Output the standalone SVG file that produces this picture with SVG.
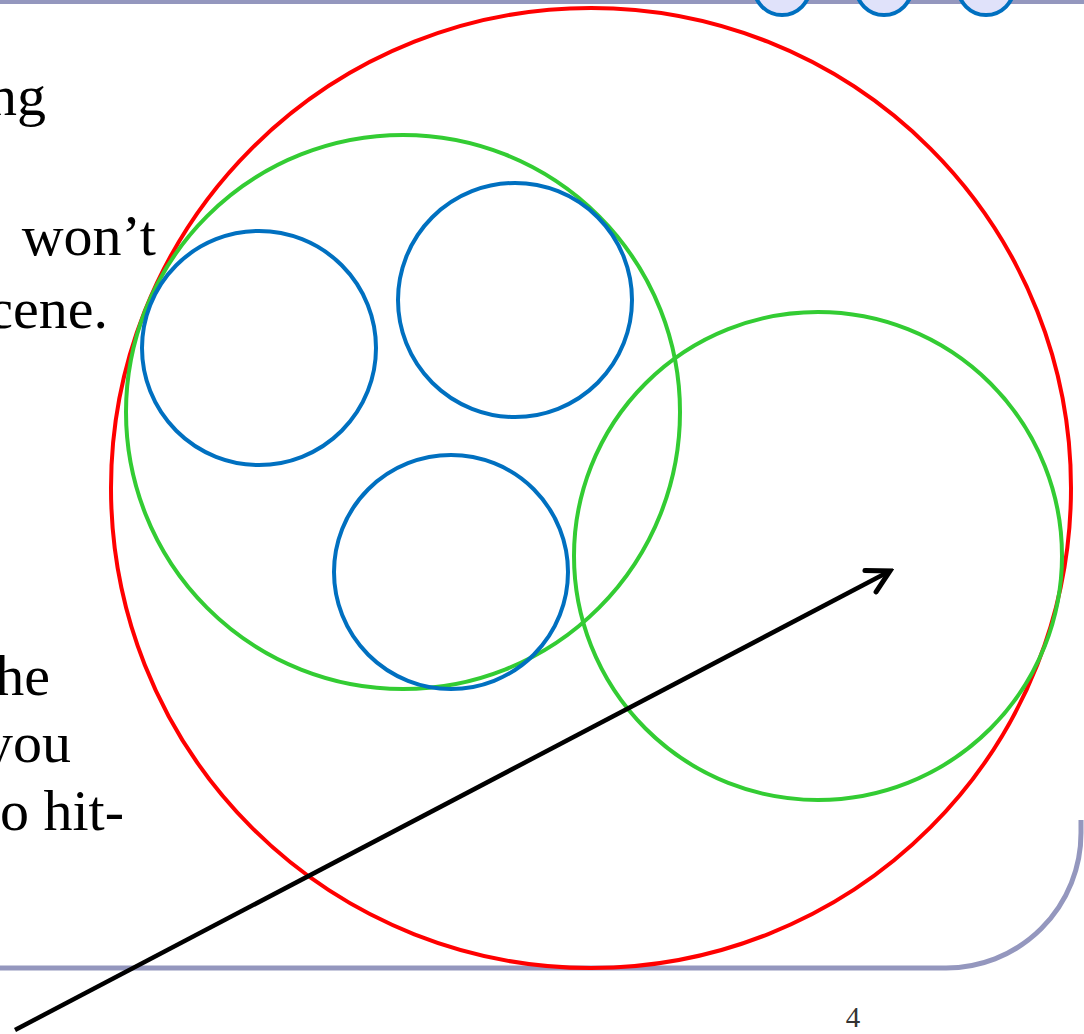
<svg xmlns="http://www.w3.org/2000/svg" width="1084" height="1034" viewBox="0 0 1084 1034">
<defs>
<style>
.txt{font-family:"Liberation Serif","Times New Roman",serif;font-size:58px;fill:#000;text-anchor:end}
.frame{fill:none;stroke:#9497BE;stroke-width:5}
.red{fill:none;stroke:#FF0000;stroke-width:4}
.green{fill:none;stroke:#33CC33;stroke-width:4}
.blue{fill:none;stroke:#0070C0;stroke-width:4}
.dot{fill:#E0E2FA;stroke:#0070C0;stroke-width:4}
</style>
<marker id="arr" viewBox="0 0 30 30" refX="26" refY="15" markerWidth="30" markerHeight="30" markerUnits="userSpaceOnUse" orient="auto">
<path d="M4,3 L26,15 L4,27" fill="none" stroke="#000" stroke-width="5" stroke-linecap="round" stroke-linejoin="miter"/>
</marker>
</defs>
<g id="frame">
<line class="frame" x1="0" y1="1.5" x2="1084" y2="1.5"/>
<path class="frame" d="M0,968 L945,968 A135,135 0 0 0 1081,833 L1081,820"/>
</g>
<g id="dots">
<circle class="dot" cx="782" cy="-13" r="28"/>
<circle class="dot" cx="884" cy="-13" r="28"/>
<circle class="dot" cx="986" cy="-13" r="28"/>
</g>
<g id="text">
<text class="txt" x="46" y="115">ng</text>
<text class="txt" x="156" y="255">won’t</text>
<text class="txt" x="108" y="328">cene.</text>
<text class="txt" x="50" y="695">he</text>
<text class="txt" x="71" y="762">you</text>
<text class="txt" x="124" y="830">to hit-</text>
<text x="853" y="1027" style="font-family:'Liberation Serif',serif;font-size:29px;fill:#333;text-anchor:middle">4</text>
</g>
<g id="red-circle"><circle class="red" cx="591" cy="488" r="480"/></g>
<g id="green-circle-1"><circle class="green" cx="403" cy="412" r="277"/></g>
<g id="green-circle-2"><circle class="green" cx="818" cy="556" r="244"/></g>
<g id="blue-circle-1"><circle class="blue" cx="259" cy="348" r="117"/></g>
<g id="blue-circle-2"><circle class="blue" cx="515" cy="300" r="117"/></g>
<g id="blue-circle-3"><circle class="blue" cx="451" cy="572" r="117"/></g>
<g id="connectors">
<line x1="15" y1="1030" x2="890" y2="571" stroke="#000" stroke-width="4.5" marker-end="url(#arr)"/>
</g>
</svg>
